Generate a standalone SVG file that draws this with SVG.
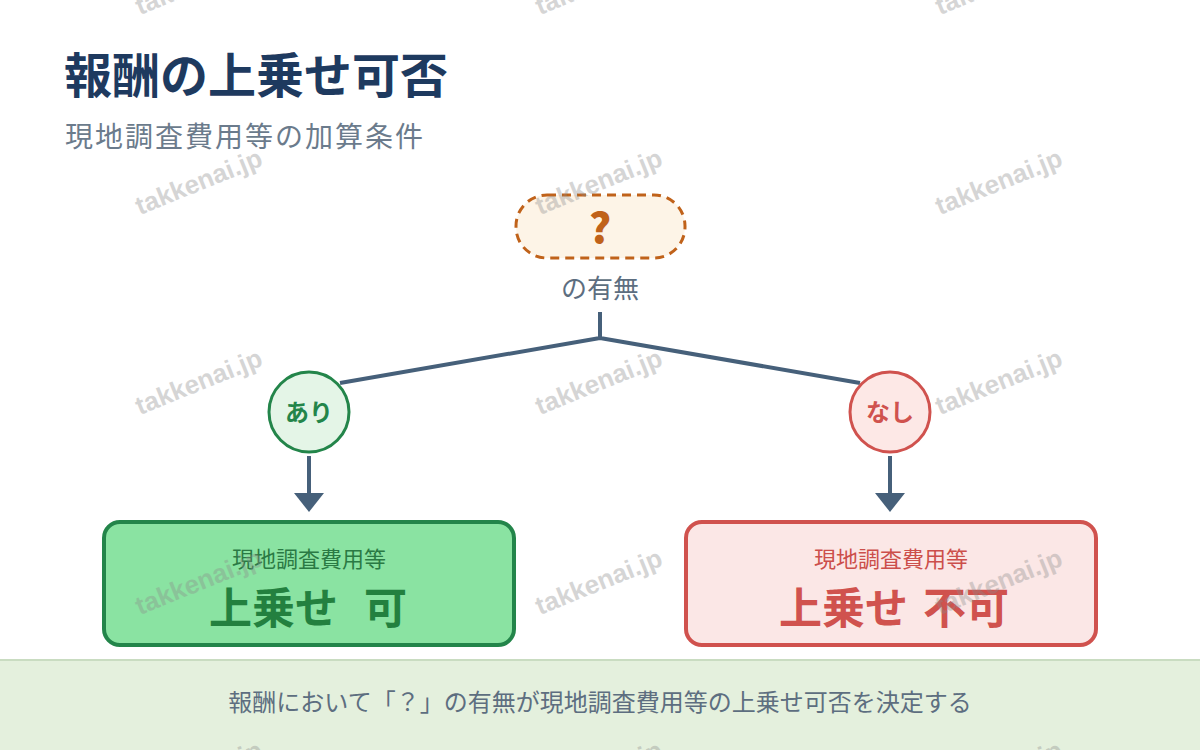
<svg xmlns="http://www.w3.org/2000/svg" width="1200" height="750" viewBox="0 0 1200 750">
<style>
.jp{font-family:"Noto Sans CJK JP","Noto Sans",sans-serif}
.wm{font-family:"Liberation Sans",Arial,sans-serif;font-weight:bold;font-size:26px;fill:#8a8a8a;opacity:0.35}
.conn{stroke:#46607a;stroke-width:4;fill:none}
.head{fill:#46607a}
</style>
<rect width="1200" height="750" fill="#ffffff"/>
<g id="title">
<text class="jp" x="64" y="93" font-size="48" font-weight="bold" fill="#1e3a5f">報酬の上乗せ可否</text>
<text class="jp" x="65" y="147" font-size="28" letter-spacing="2" fill="#6b7b8c">現地調査費用等の加算条件</text>
</g>
<g id="connectors">
<path class="conn" d="M600 312 V338 M600 338 L340 383 M600 338 L860 383"/>
<path class="conn" d="M309 456 V495 M890 456 V495"/>
<polygon class="head" points="294,493 324,493 309,512"/>
<polygon class="head" points="875,493 905,493 890,512"/>
</g>
<g id="question">
<rect x="516" y="195" width="169" height="63" rx="31" fill="#fdf4e7" stroke="#c0621a" stroke-width="3" stroke-dasharray="9 6"/>
<text class="jp" x="600" y="243" text-anchor="middle" font-weight="900" font-size="42" fill="#c0621a">?</text>
<text class="jp" x="600" y="298" text-anchor="middle" font-size="26" fill="#5d6e80">の有無</text>
</g>
<g id="yes">
<circle cx="309" cy="412" r="40" fill="#e4f5e7" stroke="#23854a" stroke-width="3"/>
<text class="jp" x="309" y="421" text-anchor="middle" font-size="24" font-weight="bold" fill="#23854a">あり</text>
</g>
<g id="no">
<circle cx="890" cy="412" r="40" fill="#fde8e6" stroke="#d0524e" stroke-width="3"/>
<text class="jp" x="890" y="421" text-anchor="middle" font-size="24" font-weight="bold" fill="#d0524e">なし</text>
</g>
<g id="result-yes">
<rect x="104" y="522" width="410" height="123" rx="16" fill="#8ae3a2" stroke="#23854a" stroke-width="4"/>
<text class="jp" x="309" y="567" text-anchor="middle" font-size="22" fill="#2a7a44">現地調査費用等</text>
<text class="jp" font-size="43" font-weight="bold" fill="#23803f"><tspan x="209" y="624">上乗せ</tspan><tspan x="364" y="624">可</tspan></text>
</g>
<g id="result-no">
<rect x="686" y="522" width="410" height="123" rx="16" fill="#fbe7e6" stroke="#d0524e" stroke-width="4"/>
<text class="jp" x="891" y="567" text-anchor="middle" font-size="22" fill="#cc4f4b">現地調査費用等</text>
<text class="jp" font-size="43" font-weight="bold" fill="#d0524e"><tspan x="779" y="624">上乗せ</tspan><tspan x="923" y="624">不可</tspan></text>
</g>
<g id="footer">
<rect x="0" y="660" width="1200" height="90" fill="#e4f0dd"/>
<line x1="0" y1="660" x2="1200" y2="660" stroke="#c9dcc1" stroke-width="2"/>
<text class="jp" x="600" y="711" text-anchor="middle" font-size="24" fill="#5d6e80">報酬において「？」の有無が現地調査費用等の上乗せ可否を決定する</text>
</g>
<g id="watermarks">
<text class="wm" transform="translate(202,-10) rotate(-22)" text-anchor="middle">takkenai.jp</text>
<text class="wm" transform="translate(602,-10) rotate(-22)" text-anchor="middle">takkenai.jp</text>
<text class="wm" transform="translate(1002,-10) rotate(-22)" text-anchor="middle">takkenai.jp</text>
<text class="wm" transform="translate(202,190) rotate(-22)" text-anchor="middle">takkenai.jp</text>
<text class="wm" transform="translate(602,190) rotate(-22)" text-anchor="middle">takkenai.jp</text>
<text class="wm" transform="translate(1002,190) rotate(-22)" text-anchor="middle">takkenai.jp</text>
<text class="wm" transform="translate(202,390) rotate(-22)" text-anchor="middle">takkenai.jp</text>
<text class="wm" transform="translate(602,390) rotate(-22)" text-anchor="middle">takkenai.jp</text>
<text class="wm" transform="translate(1002,390) rotate(-22)" text-anchor="middle">takkenai.jp</text>
<text class="wm" transform="translate(202,590) rotate(-22)" text-anchor="middle">takkenai.jp</text>
<text class="wm" transform="translate(602,590) rotate(-22)" text-anchor="middle">takkenai.jp</text>
<text class="wm" transform="translate(1002,590) rotate(-22)" text-anchor="middle">takkenai.jp</text>
<text class="wm" transform="translate(202,782) rotate(-22)" text-anchor="middle">takkenai.jp</text>
<text class="wm" transform="translate(602,782) rotate(-22)" text-anchor="middle">takkenai.jp</text>
<text class="wm" transform="translate(1002,782) rotate(-22)" text-anchor="middle">takkenai.jp</text>
</g>
</svg>
